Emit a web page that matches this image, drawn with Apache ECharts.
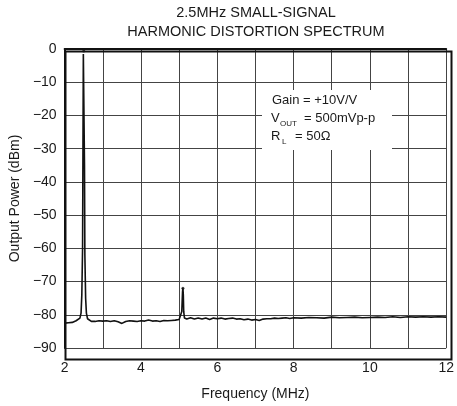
<!DOCTYPE html>
<html><head><meta charset="utf-8">
<script src="https://cdn.jsdelivr.net/npm/echarts@6/dist/echarts.min.js"></script>
<style>html,body{margin:0;padding:0;background:#fff}#c{width:457px;height:406px}</style>
</head><body><div id="c"></div>
<script>
const freqMHz = [2.00,2.05,2.10,2.15,2.20,2.25,2.30,2.35,2.40,2.43,2.45,2.47,2.48,2.49,2.50,2.51,2.52,2.53,2.55,2.57,2.60,2.65,2.70,2.80,2.90,3.00,3.10,3.20,3.30,3.40,3.50,3.60,3.70,3.80,3.90,4.00,4.10,4.20,4.30,4.40,4.50,4.60,4.70,4.80,4.90,5.00,5.05,5.07,5.08,5.09,5.10,5.11,5.12,5.14,5.20,5.30,5.40,5.50,5.60,5.70,5.80,5.90,6.00,6.10,6.20,6.30,6.40,6.50,6.60,6.70,6.80,6.90,7.00,7.10,7.20,7.30,7.40,7.50,7.60,7.70,7.80,7.90,8.00,8.20,8.40,8.60,8.80,9.00,9.20,9.40,9.60,9.80,10.0,10.2,10.4,10.6,10.8,11.0,11.2,11.4,11.6,11.8,12.0];
const powerDBm = [-82.5,-82.2,-82.4,-82.0,-82.3,-82.1,-81.8,-81.5,-81.0,-79.5,-74,-60,-30,-1.5,-1,-2,-35,-62,-75,-79.5,-81.2,-81.8,-82.0,-82.0,-81.8,-81.9,-81.8,-82.0,-81.8,-82.1,-82.6,-82.0,-81.8,-81.9,-82.0,-81.8,-81.9,-81.6,-81.9,-81.8,-82.0,-81.7,-81.8,-81.7,-81.6,-81.4,-81.0,-79,-76,-73,-72,-74,-79,-81.0,-81.3,-80.9,-81.3,-81.0,-81.3,-81.0,-81.4,-81.0,-81.2,-81.0,-81.3,-81.1,-81.0,-81.3,-81.2,-81.5,-81.3,-81.6,-81.4,-81.7,-81.3,-81.2,-81.2,-81.0,-81.1,-81.0,-80.9,-81.1,-80.9,-81.0,-80.8,-80.9,-81.0,-80.7,-80.9,-80.8,-80.7,-80.9,-80.8,-80.7,-80.8,-80.6,-80.8,-80.6,-80.7,-80.6,-80.7,-80.6,-80.7];
const peakFreq = [2.5, 5.1];
const peakPower = [-0.6, -72];
const xTicks = [2,4,6,8,10,12];
const yTicks = [0,-10,-20,-30,-40,-50,-60,-70,-80,-90];
const titleLines = ['2.5MHz SMALL-SIGNAL','HARMONIC DISTORTION SPECTRUM'];

const FONT = 'Liberation Sans, Arial, sans-serif';
const chart = echarts.init(document.getElementById('c'), null, {renderer:'canvas'});
const lineData = freqMHz.map((f,i)=>[f, powerDBm[i]]);
const peakData = peakFreq.map((f,i)=>[f, peakPower[i]]);
const fmtNum = v => (v < 0 ? '\u2212' + Math.abs(v) : String(v));

chart.setOption({
  animation:false,
  backgroundColor:'#fff',
  title:{
    text: titleLines.join('\n'),
    left: 256, top: 3, padding:0, textAlign:'center',
    textStyle:{fontFamily:FONT, fontSize:14.5, fontWeight:'normal', color:'#1a1a1a', lineHeight:19}
  },
  grid:{left:63, right:8, top:49, bottom:49, show:false},
  xAxis:{
    type:'value', min:2, max:12, interval:1,
    name:'Frequency (MHz)', nameLocation:'middle', nameGap:39,
    nameTextStyle:{fontFamily:FONT, fontSize:14, color:'#1a1a1a'},
    axisLine:{show:true, lineStyle:{color:'#111', width:2}},
    axisTick:{show:false},
    axisLabel:{fontFamily:FONT, fontSize:14, color:'#1a1a1a', margin:13,
      formatter: v => xTicks.includes(v) ? fmtNum(v) : ''},
    splitLine:{show:true, lineStyle:{color:'#444', width:1}}
  },
  yAxis:{
    type:'value', min:-90, max:0, interval:10,
    name:'Output Power (dBm)', nameLocation:'middle', nameGap:42, nameRotate:90,
    nameTextStyle:{fontFamily:FONT, fontSize:14, color:'#1a1a1a'},
    axisLine:{show:true, lineStyle:{color:'#111', width:2}},
    axisTick:{show:false},
    axisLabel:{fontFamily:FONT, fontSize:14, color:'#1a1a1a', margin:8,
      formatter: v => yTicks.includes(v) ? fmtNum(v) : ''},
    splitLine:{show:true, lineStyle:{color:'#444', width:1}}
  },
  series:[
    {type:'line', data:lineData, symbol:'none', lineStyle:{color:'#111', width:1.6}, z:5},
    {type:'scatter', data:peakData, symbol:'circle', symbolSize:3, itemStyle:{color:'#111'}, z:6}
  ],
  graphic:[
    {type:'rect', left:63, top:49, shape:{width:386, height:308}, style:{fill:'none', stroke:'#111', lineWidth:2}, z:10},
    {type:'rect', left:262, top:90, shape:{width:130, height:60}, style:{fill:'#fff'}, z:8},
    {type:'text', left:272, top:94, style:{text:'Gain = +10V/V', font:'13px '+FONT, fill:'#1a1a1a'}, z:9},
    {type:'text', left:271, top:112, style:{text:'V', font:'13px '+FONT, fill:'#1a1a1a'}, z:9},
    {type:'text', left:280, top:120, style:{text:'OUT', font:'8px '+FONT, fill:'#1a1a1a'}, z:9},
    {type:'text', left:304, top:112, style:{text:'= 500mVp-p', font:'13px '+FONT, fill:'#1a1a1a'}, z:9},
    {type:'text', left:271, top:130, style:{text:'R', font:'13px '+FONT, fill:'#1a1a1a'}, z:9},
    {type:'text', left:282, top:138, style:{text:'L', font:'8px '+FONT, fill:'#1a1a1a'}, z:9},
    {type:'text', left:295, top:130, style:{text:'= 50\u03A9', font:'13px '+FONT, fill:'#1a1a1a'}, z:9}
  ]
});
</script></body></html>
